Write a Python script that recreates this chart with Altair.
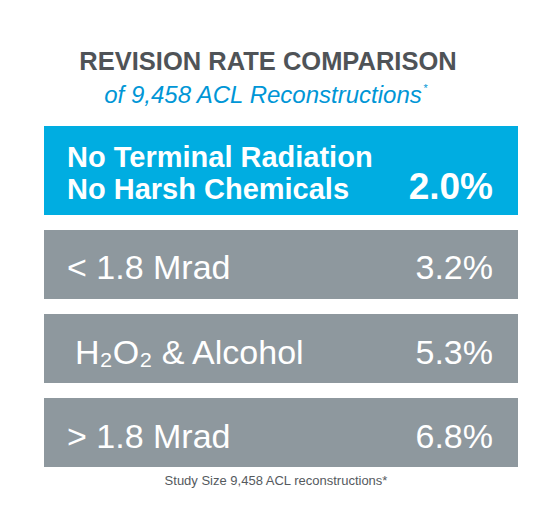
import altair as alt
import pandas as pd

# ---- data ----
categories = [
    "No Terminal Radiation\nNo Harsh Chemicals",
    "< 1.8 Mrad",
    "H₂O₂ & Alcohol",
    "> 1.8 Mrad",
]
rates = [2.0, 3.2, 5.3, 6.8]
groups = ["featured", "other", "chem", "other"]

title_text = "REVISION RATE COMPARISON"
subtitle_text = "of 9,458 ACL Reconstructions"
footnote_text = "Study Size 9,458 ACL reconstructions*"

BLUE = "#00ade1"
GRAY = "#8e989e"
SANS = "Liberation Sans, Arial, sans-serif"

df = pd.DataFrame({"category": categories, "rate": rates, "group": groups})

yenc = alt.Y(
    "category:N",
    sort=categories,
    scale=alt.Scale(range=[138, 459], paddingInner=0.18, paddingOuter=0),
    axis=None,
)
colorenc = alt.Color(
    "group:N",
    scale=alt.Scale(domain=["featured", "other", "chem"], range=[BLUE, GRAY, GRAY]),
    legend=None,
)

base = alt.Chart(df)

bars = base.mark_rect().encode(
    y=yenc, x=alt.value(36), x2=alt.value(510), color=colorenc
)
# featured bar is taller: extend it upward
bars_ext = base.transform_filter(alt.datum.group == "featured").mark_rect(
    yOffset=-20
).encode(y=yenc, x=alt.value(36), x2=alt.value(510), color=colorenc)

feat_label = base.transform_filter(alt.datum.group == "featured").mark_text(
    align="left", baseline="alphabetic", lineBreak="\n", lineHeight=32,
    font=SANS, fontWeight="bold", fontSize=29, color="white", dy=-13.5
).encode(y=yenc, x=alt.value(59), text="category:N")

other_label = base.transform_filter(alt.datum.group == "other").mark_text(
    align="left", baseline="alphabetic", font=SANS, fontSize=34,
    color="white", dy=15
).encode(y=yenc, x=alt.value(59), text="category:N")

chem_label = base.transform_filter(alt.datum.group == "chem").mark_text(
    align="left", baseline="alphabetic", font=SANS, fontSize=34,
    color="white", dy=15, dx=8
).encode(y=yenc, x=alt.value(59), text="category:N")

feat_val = base.transform_filter(alt.datum.group == "featured").transform_calculate(
    lbl="format(datum.rate, '.1f') + '%'"
).mark_text(
    align="right", baseline="alphabetic", font=SANS, fontWeight="bold",
    fontSize=37, color="white", dy=18.5
).encode(y=yenc, x=alt.value(485), text="lbl:N")

other_val = base.transform_filter(alt.datum.group != "featured").transform_calculate(
    lbl="format(datum.rate, '.1f') + '%'"
).mark_text(
    align="right", baseline="alphabetic", font=SANS, fontSize=34,
    color="white", dy=15
).encode(y=yenc, x=alt.value(485), text="lbl:N")

tdf = pd.DataFrame({"t": [title_text]})
title = alt.Chart(tdf).mark_text(
    align="center", baseline="alphabetic", font=SANS, fontWeight="bold",
    fontSize=25.5, color="#4f5357"
).encode(x=alt.value(260), y=alt.value(62), text="t:N")

sdf = pd.DataFrame({"t": [subtitle_text]})
subtitle = alt.Chart(sdf).mark_text(
    align="center", baseline="alphabetic", font=SANS,
    fontStyle="italic", fontSize=24, color="#0096d6"
).encode(x=alt.value(255), y=alt.value(95), text="t:N")
star = alt.Chart(pd.DataFrame({"t": ["*"]})).mark_text(
    align="left", baseline="alphabetic", font=SANS,
    fontStyle="italic", fontSize=11, color="#0096d6"
).encode(x=alt.value(415), y=alt.value(84), text="t:N")

fdf = pd.DataFrame({"t": [footnote_text]})
footnote = alt.Chart(fdf).mark_text(
    align="center", baseline="alphabetic", font=SANS,
    fontSize=13, color="#555a5e"
).encode(x=alt.value(268), y=alt.value(477), text="t:N")

chart = alt.layer(
    bars, bars_ext, feat_label, other_label, chem_label, feat_val, other_val,
    title, subtitle, star, footnote
).properties(
    width=532, height=504,
    autosize=alt.AutoSizeParams(type="none"),
    padding=0,
    background="white",
).configure_view(strokeWidth=0)

chart.save("out.html", embed_options={"renderer": "svg", "actions": False})
